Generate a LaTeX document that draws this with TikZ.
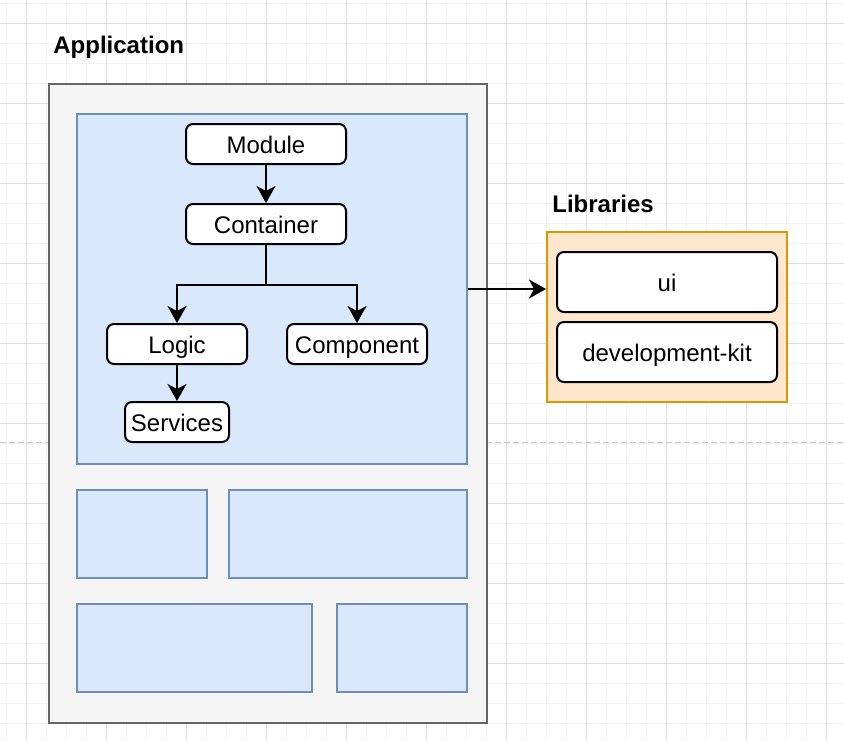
\documentclass[tikz,border=0pt]{standalone}
\usepackage{fontspec}
\setmainfont{Liberation Sans}
\usetikzlibrary{arrows.meta}
\definecolor{gridminor}{HTML}{F2F2F2}
\definecolor{gridmajor}{HTML}{DDDDDD}
\definecolor{pagebreak}{HTML}{C8C8C8}
\definecolor{appfill}{HTML}{F5F5F5}
\definecolor{appline}{HTML}{666666}
\definecolor{bluefill}{HTML}{DAE8FC}
\definecolor{blueline}{HTML}{6C8EBF}
\definecolor{orfill}{HTML}{FFE6CC}
\definecolor{orline}{HTML}{D79B00}
\tikzset{
  minorgrid/.style={draw=gridminor, line width=0.5pt},
  majorgrid/.style={draw=gridmajor, line width=0.5pt},
  appbox/.style={draw=appline, fill=appfill, line width=1pt, rectangle, inner sep=0pt},
  bluebox/.style={draw=blueline, fill=bluefill, line width=1pt, rectangle, inner sep=0pt},
  orbox/.style={draw=orline, fill=orfill, line width=1pt, rectangle, inner sep=0pt},
  itembox/.style={draw=black, fill=white, line width=1pt, rectangle, rounded corners=3.5pt,
    inner sep=0pt, font=\fontsize{12pt}{14pt}\selectfont, text height=9.8pt, text depth=0pt},
  title/.style={font=\bfseries\fontsize{12pt}{14pt}\selectfont, inner sep=0pt, anchor=base west},
  arr/.style={draw=black, line width=1pt, -{Stealth[length=8.5pt,width=9.5pt,inset=2.5pt]}},
}
\begin{document}
\begin{tikzpicture}[x=0.5pt,y=-0.5pt]
\useasboundingbox (0,0) rectangle (844,741);
\fill[white] (0,0) rectangle (844,741);
% grid
\foreach \i in {0,...,42} { \draw[minorgrid] ({6.667+20*\i},0) -- ({6.667+20*\i},741); }
\foreach \i in {0,...,37} { \draw[minorgrid] (0,{3.333+20*\i}) -- (844,{3.333+20*\i}); }
\foreach \i in {0,...,10} { \draw[majorgrid] ({26.667+80*\i},0) -- ({26.667+80*\i},741); }
\foreach \i in {0,...,9} { \draw[majorgrid] (0,{23.333+80*\i}) -- (844,{23.333+80*\i}); }
% page break
\draw[pagebreak, line width=0.6pt, dash pattern=on 3pt off 1.5pt] (0,442.7) -- (844,442.7);

% Application
\node[title] (apptitle) at (53,53) {Application};
\node[appbox, minimum width=219pt, minimum height=319.5pt] (app) at (268,403.5) {};
\node[bluebox, minimum width=195pt, minimum height=175pt] (blue) at (272,289) {};
\node[bluebox, minimum width=65pt, minimum height=44pt] (b1) at (142,534) {};
\node[bluebox, minimum width=119pt, minimum height=44pt] (b2) at (348,534) {};
\node[bluebox, minimum width=117.5pt, minimum height=44pt] (b3) at (194.5,648) {};
\node[bluebox, minimum width=65pt, minimum height=44pt] (b4) at (402,648) {};

\node[itembox, minimum width=80pt, minimum height=20pt] (module) at (266,144) {Module};
\node[itembox, minimum width=80pt, minimum height=20pt] (container) at (266,224) {Container};
\node[itembox, minimum width=70pt, minimum height=20pt] (logic) at (177,344) {Logic};
\node[itembox, minimum width=70pt, minimum height=20pt] (component) at (357,344) {Component};
\node[itembox, minimum width=52pt, minimum height=20pt] (services) at (177,422) {Services};

\draw[arr] (module.south) -- (container.north);
\draw[arr] (container.south) -- ++(0,40) -| (logic.north);
\draw[arr] (container.south) -- ++(0,40) -| (component.north);
\draw[arr] (logic.south) -- (services.north);

% Libraries
\node[title] (libtitle) at (552,212) {Libraries};
\node[orbox, minimum width=120pt, minimum height=85pt] (lib) at (667,317) {};
\node[itembox, minimum width=110pt, minimum height=30pt] (ui) at (667,282) {ui};
\node[itembox, minimum width=110pt, minimum height=30pt] (devkit) at (667,352) {development-kit};

\draw[arr] (blue.east) -- (blue.east -| lib.west);
\end{tikzpicture}
\end{document}
